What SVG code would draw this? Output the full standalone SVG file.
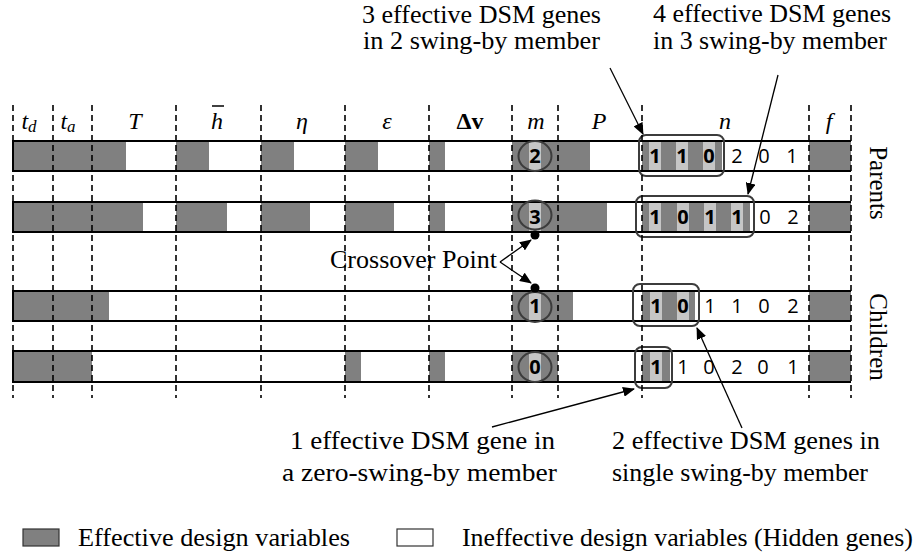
<svg xmlns="http://www.w3.org/2000/svg" width="918" height="556" viewBox="0 0 918 556">
<style>
.g{fill:#808080}
.l{fill:#c6c6c6}
.out{fill:none;stroke:#000;stroke-width:2}
.dash{stroke:#000;stroke-width:1.6;stroke-dasharray:6,4}
.box{fill:none;stroke:#3c3c3c;stroke-width:2}
.circ{fill:none;stroke:#3c3c3c;stroke-width:2}
.d{font-family:'Open Sans',sans-serif;font-size:20px;fill:#000;text-anchor:middle}
.b{font-weight:bold}
.t{font-family:'Liberation Serif','Times New Roman','DejaVu Serif',serif;font-size:25px;fill:#000}
.lab{font-family:'Liberation Serif','Times New Roman','DejaVu Serif',serif;font-style:italic;font-size:24px;fill:#000;text-anchor:middle}
.arr{stroke:#000;stroke-width:1.3;fill:none;marker-end:url(#ah)}
</style>
<defs>
<marker id="ah" markerWidth="12" markerHeight="10" refX="11" refY="5" orient="auto" markerUnits="userSpaceOnUse">
<path d="M0,0 L12,5 L0,10 Z" fill="#000"/>
</marker>
</defs>
<rect width="918" height="556" fill="#fff"/>

<g id="labels">
<text class="lab" x="29" y="129">t<tspan font-size="17" dy="3">d</tspan></text>
<text class="lab" x="68" y="129">t<tspan font-size="17" dy="3">a</tspan></text>
<text class="lab" x="135" y="129">T</text>
<text class="lab" x="217" y="129">h</text>
<line x1="212" y1="106" x2="224" y2="106" stroke="#000" stroke-width="1.5"/>
<text class="lab" x="302" y="129">η</text>
<text class="lab" x="387" y="129">ε</text>
<text class="lab" x="470" y="129" style="font-style:normal;font-weight:bold">Δv</text>
<text class="lab" x="536" y="129">m</text>
<text class="lab" x="599" y="129">P</text>
<text class="lab" x="725" y="129">n</text>
<text class="lab" x="829" y="129">f</text>
</g>

<g id="parent1">
<rect x="13" y="141" width="838" height="30" fill="#fff"/>
<rect class="g" x="13" y="141" width="113" height="30"/>
<rect class="g" x="176" y="141" width="33" height="30"/>
<rect class="g" x="261" y="141" width="33" height="30"/>
<rect class="g" x="345" y="141" width="33" height="30"/>
<rect class="g" x="429" y="141" width="16" height="30"/>
<rect class="g" x="512" y="141" width="78" height="30"/>
<rect class="g" x="642" y="141" width="80" height="30"/>
<rect class="g" x="809" y="141" width="42" height="30"/>
<rect class="l" x="529" y="141" width="12" height="30"/>
<rect class="l" x="649" y="141" width="12" height="30"/>
<rect class="l" x="676" y="141" width="12" height="30"/>
<rect class="l" x="703" y="141" width="12" height="30"/>
<path class="out" d="M851,141 H13 V171 H851"/>
<ellipse class="circ" cx="535" cy="156" rx="16.5" ry="15"/>
<text class="d b" x="535" y="163">2</text>
<text class="d b" x="655" y="163">1</text>
<text class="d b" x="682" y="163">1</text>
<text class="d b" x="709" y="163">0</text>
<text class="d" x="737" y="163">2</text>
<text class="d" x="764" y="163">0</text>
<text class="d" x="792" y="163">1</text>
<rect class="box" x="639" y="135" width="85" height="41" rx="7"/>
</g>

<g id="parent2">
<rect x="13" y="202" width="838" height="30" fill="#fff"/>
<rect class="g" x="13" y="202" width="130" height="30"/>
<rect class="g" x="176" y="202" width="51" height="30"/>
<rect class="g" x="261" y="202" width="49" height="30"/>
<rect class="g" x="345" y="202" width="49" height="30"/>
<rect class="g" x="429" y="202" width="16" height="30"/>
<rect class="g" x="512" y="202" width="95" height="30"/>
<rect class="g" x="642" y="202" width="108" height="30"/>
<rect class="g" x="809" y="202" width="42" height="30"/>
<rect class="l" x="529" y="202" width="12" height="30"/>
<rect class="l" x="649" y="202" width="12" height="30"/>
<rect class="l" x="677" y="202" width="12" height="30"/>
<rect class="l" x="704" y="202" width="12" height="30"/>
<rect class="l" x="731" y="202" width="12" height="30"/>
<path class="out" d="M851,202 H13 V232 H851"/>
<ellipse class="circ" cx="535" cy="215" rx="16.5" ry="14.5"/>
<text class="d b" x="535" y="224">3</text>
<text class="d b" x="655" y="224">1</text>
<text class="d b" x="683" y="224">0</text>
<text class="d b" x="710" y="224">1</text>
<text class="d b" x="737" y="224">1</text>
<text class="d" x="765" y="224">0</text>
<text class="d" x="793" y="224">2</text>
<rect class="box" x="636" y="196" width="118" height="41" rx="7"/>
</g>

<g id="child1">
<rect x="13" y="291" width="838" height="30" fill="#fff"/>
<rect class="g" x="13" y="291" width="96" height="30"/>
<rect class="g" x="512" y="291" width="61" height="30"/>
<rect class="g" x="642" y="291" width="53" height="30"/>
<rect class="g" x="809" y="291" width="42" height="30"/>
<rect class="l" x="529" y="291" width="12" height="30"/>
<rect class="l" x="650" y="291" width="12" height="30"/>
<rect class="l" x="677" y="291" width="12" height="30"/>
<path class="out" d="M851,291 H13 V321 H851"/>
<ellipse class="circ" cx="535" cy="307" rx="16.5" ry="15"/>
<text class="d b" x="535" y="313">1</text>
<text class="d b" x="656" y="313">1</text>
<text class="d b" x="683" y="313">0</text>
<text class="d" x="710" y="313">1</text>
<text class="d" x="737" y="313">1</text>
<text class="d" x="764" y="313">0</text>
<text class="d" x="793" y="313">2</text>
<rect class="box" x="633" y="284" width="66" height="42" rx="7"/>
</g>

<g id="child2">
<rect x="13" y="351" width="838" height="31" fill="#fff"/>
<rect class="g" x="13" y="351" width="79" height="31"/>
<rect class="g" x="345" y="351" width="16" height="31"/>
<rect class="g" x="429" y="351" width="16" height="31"/>
<rect class="g" x="512" y="351" width="46" height="31"/>
<rect class="g" x="642" y="351" width="28" height="31"/>
<rect class="g" x="809" y="351" width="42" height="31"/>
<rect class="l" x="529" y="351" width="12" height="31"/>
<rect class="l" x="650" y="351" width="12" height="31"/>
<path class="out" d="M851,351 H13 V382 H851"/>
<ellipse class="circ" cx="535" cy="367" rx="16.5" ry="15"/>
<text class="d b" x="535" y="374">0</text>
<text class="d b" x="656" y="374">1</text>
<text class="d" x="683" y="374">1</text>
<text class="d" x="709" y="374">0</text>
<text class="d" x="737" y="374">2</text>
<text class="d" x="763" y="374">0</text>
<text class="d" x="793" y="374">1</text>
<rect class="box" x="635" y="347" width="37" height="41" rx="7"/>
</g>

<g id="dividers">
<line class="dash" x1="13" y1="105" x2="13" y2="398"/>
<line class="dash" x1="53" y1="105" x2="53" y2="398"/>
<line class="dash" x1="92" y1="105" x2="92" y2="398"/>
<line class="dash" x1="176" y1="105" x2="176" y2="398"/>
<line class="dash" x1="261" y1="105" x2="261" y2="398"/>
<line class="dash" x1="345" y1="105" x2="345" y2="398"/>
<line class="dash" x1="429" y1="105" x2="429" y2="398"/>
<line class="dash" x1="512" y1="105" x2="512" y2="398"/>
<line class="dash" x1="558" y1="105" x2="558" y2="398"/>
<line class="dash" x1="642" y1="105" x2="642" y2="398"/>
<line class="dash" x1="809" y1="105" x2="809" y2="398"/>
<line class="dash" x1="851" y1="105" x2="851" y2="398"/>
</g>

<g id="side-labels">
<text class="t" font-size="25" text-anchor="middle" transform="translate(870,183) rotate(90)">Parents</text>
<text class="t" font-size="25" text-anchor="middle" transform="translate(870,337) rotate(90)">Children</text>
</g>

<g id="annotations">
<text class="t" x="362" y="23" textLength="239" lengthAdjust="spacingAndGlyphs">3 effective DSM genes</text>
<text class="t" x="363" y="49" textLength="237" lengthAdjust="spacingAndGlyphs">in 2 swing-by member</text>
<text class="t" x="653" y="22" textLength="238" lengthAdjust="spacingAndGlyphs">4 effective DSM genes</text>
<text class="t" x="653" y="49" textLength="234" lengthAdjust="spacingAndGlyphs">in 3 swing-by member</text>
<text class="t" x="330" y="268" textLength="167" lengthAdjust="spacingAndGlyphs">Crossover Point</text>
<text class="t" x="290" y="449" textLength="265" lengthAdjust="spacingAndGlyphs">1 effective DSM gene in</text>
<text class="t" x="282" y="481" textLength="275" lengthAdjust="spacingAndGlyphs">a zero-swing-by member</text>
<text class="t" x="612" y="449" textLength="268" lengthAdjust="spacingAndGlyphs">2 effective DSM genes in</text>
<text class="t" x="612" y="481" textLength="256" lengthAdjust="spacingAndGlyphs">single swing-by member</text>
<circle cx="535" cy="235" r="4.5" fill="#000"/>
<circle cx="535" cy="288" r="4.5" fill="#000"/>
</g>

<g id="connectors">
<line class="arr" x1="610" y1="68" x2="643" y2="134"/>
<line class="arr" x1="778" y1="75" x2="748" y2="194"/>
<line class="arr" x1="500" y1="262" x2="531" y2="240"/>
<line class="arr" x1="500" y1="262" x2="531" y2="283"/>
<line class="arr" x1="492" y1="427" x2="634" y2="389"/>
<line class="arr" x1="742" y1="428" x2="697" y2="328"/>
</g>

<g id="legend">
<rect x="23" y="529" width="36" height="17" fill="#808080" stroke="#333" stroke-width="1.2"/>
<text class="t" x="78" y="546" textLength="272" lengthAdjust="spacingAndGlyphs">Effective design variables</text>
<rect x="397" y="529" width="36" height="17" fill="#fff" stroke="#333" stroke-width="1.2"/>
<text class="t" x="462" y="546" textLength="451" lengthAdjust="spacingAndGlyphs">Ineffective design variables (Hidden genes)</text>
</g>
</svg>
